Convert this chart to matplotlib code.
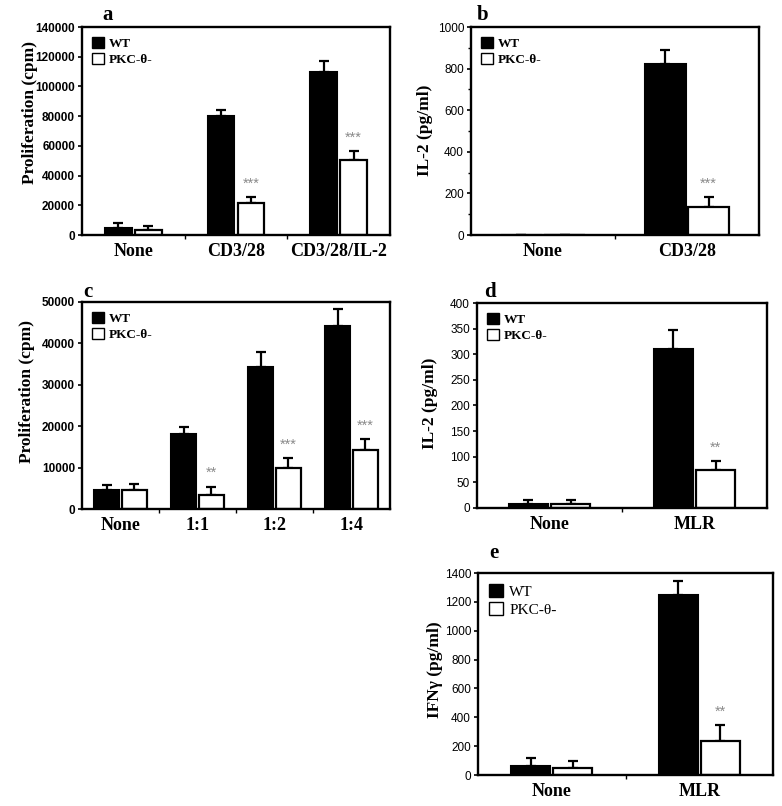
import matplotlib
matplotlib.use('Agg')
import matplotlib.pyplot as plt
from matplotlib.patches import Patch
from matplotlib.ticker import MultipleLocator, FixedLocator
import numpy as np

SERIF = ['Liberation Serif', 'DejaVu Serif']
SANS = ['Liberation Sans Narrow', 'Liberation Sans', 'DejaVu Sans']

# PANEL A
a_groups = ['None', 'CD3/28', 'CD3/28/IL-2']
a_wt = [5000, 80000, 110000]
a_wt_err = [3000, 4400, 6900]
a_ko = [3200, 21500, 50400]
a_ko_err = [3100, 4100, 5900]
a_sig = ['', '***', '***']

# PANEL B
b_groups = ['None', 'CD3/28']
b_wt = [0, 821]
b_wt_err = [0, 67]
b_ko = [0, 133]
b_ko_err = [0, 48]
b_sig = ['', '***']

# PANEL C
c_groups = ['None', '1:1', '1:2', '1:4']
c_wt = [4600, 18000, 34400, 44300]
c_wt_err = [1100, 1800, 3600, 3900]
c_ko = [4500, 3400, 9900, 14300]
c_ko_err = [1600, 2000, 2400, 2500]
c_sig = ['', '**', '***', '***']

# PANEL D
d_groups = ['None', 'MLR']
d_wt = [7, 311]
d_wt_err = [9, 37]
d_ko = [7, 75]
d_ko_err = [9, 16]
d_sig = ['', '**']

# PANEL E
e_groups = ['None', 'MLR']
e_wt = [65, 1250]
e_wt_err = [50, 92]
e_ko = [51, 235]
e_ko_err = [48, 111]
e_sig = ['', '**']

W, H = 782, 806
fig = plt.figure(figsize=(W / 100, H / 100), dpi=100)


def px_axes(left, top, right, bottom):
    return fig.add_axes([left / W, 1 - bottom / H, (right - left) / W, (bottom - top) / H])


def panel(box, groups, wt, wt_err, ko, ko_err, sig, ymax, ystep, width, off,
          letter, letter_xy, ylabel, ylabel_xy, bold_ticks=True, minor=None,
          leg_bold=True, leg_size=9.5):
    ax = px_axes(*box)
    x = np.arange(len(groups))
    ax.bar(x - off, wt, width, color='black', edgecolor='black', linewidth=1.5, zorder=2)
    ax.bar(x + off, ko, width, color='white', edgecolor='black', linewidth=1.6, zorder=2)
    for xs, vals, errs in [(x - off, wt, wt_err), (x + off, ko, ko_err)]:
        ax.errorbar(xs, vals, yerr=[np.zeros(len(errs)), errs], fmt='none',
                    ecolor='black', elinewidth=1.6, capsize=3.8, capthick=1.6, zorder=1)
    for xi, v, e, s in zip(x + off, ko, ko_err, sig):
        if s:
            ax.text(xi, v + e + ymax * 0.065, s, ha='center', va='center',
                    color='#8a8a8a', fontsize=10.5, family=SANS)
    ax.set_xlim(-0.5, len(groups) - 0.5)
    ax.set_ylim(0, ymax)
    ax.yaxis.set_major_locator(MultipleLocator(ystep))
    if minor:
        ax.yaxis.set_minor_locator(MultipleLocator(minor))
    ax.set_xticks(x)
    ax.set_xticklabels(groups, family=SERIF, fontweight='bold', fontsize=13)
    ax.xaxis.set_minor_locator(FixedLocator(np.arange(0.5, len(groups) - 0.5, 1)))
    ax.tick_params(axis='x', which='major', length=0, pad=6)
    ax.tick_params(axis='x', which='minor', length=3, width=1, direction='out')
    ax.tick_params(axis='y', which='major', length=3, width=1.2, direction='out', pad=2)
    ax.tick_params(axis='y', which='minor', length=2, width=1, direction='out')
    for lab in ax.get_yticklabels():
        lab.set_family(SANS)
        lab.set_fontsize(8.5)
        if bold_ticks:
            lab.set_fontweight('bold')
    for sp in ax.spines.values():
        sp.set_linewidth(1.7)
    handles = [Patch(facecolor='black', edgecolor='black', linewidth=1, label='WT'),
               Patch(facecolor='white', edgecolor='black', linewidth=1, label='PKC-θ-')]
    ax.legend(handles=handles, loc='upper left', frameon=False,
              handlelength=0.9, handleheight=0.9, handletextpad=0.4,
              labelspacing=0.2, borderaxespad=0.35,
              prop={'family': SERIF, 'weight': 'bold' if leg_bold else 'normal',
                    'size': leg_size})
    fig.text(letter_xy[0] / W, 1 - letter_xy[1] / H, letter, family=SERIF,
             fontweight='bold', fontsize=15, ha='center', va='center')
    fig.text(ylabel_xy[0] / W, 1 - ylabel_xy[1] / H, ylabel, family=SERIF,
             fontweight='bold', fontsize=12.5, rotation=90, ha='center', va='center')
    return ax


panel((82, 27, 390, 235), a_groups, a_wt, a_wt_err, a_ko, a_ko_err, a_sig,
      140000, 20000, 0.26, 0.145, 'a', (108, 15), 'Proliferation (cpm)', (30, 112))
panel((471, 27, 759, 235), b_groups, b_wt, b_wt_err, b_ko, b_ko_err, b_sig,
      1000, 200, 0.28, 0.15, 'b', (483, 15), 'IL-2 (pg/ml)', (425, 130),
      bold_ticks=False, minor=100)
panel((82, 302, 390, 509), c_groups, c_wt, c_wt_err, c_ko, c_ko_err, c_sig,
      50000, 10000, 0.33, 0.18, 'c', (88, 292), 'Proliferation (cpm)', (27, 391))
panel((477, 303, 767, 508), d_groups, d_wt, d_wt_err, d_ko, d_ko_err, d_sig,
      400, 50, 0.265, 0.145, 'd', (490, 292), 'IL-2 (pg/ml)', (430, 403),
      bold_ticks=False)
panel((478, 573, 773, 775), e_groups, e_wt, e_wt_err, e_ko, e_ko_err, e_sig,
      1400, 200, 0.265, 0.142, 'e', (494, 553), 'IFNγ (pg/ml)', (435, 670),
      bold_ticks=False, leg_bold=False, leg_size=11)

fig.savefig('out.png', dpi=100)
